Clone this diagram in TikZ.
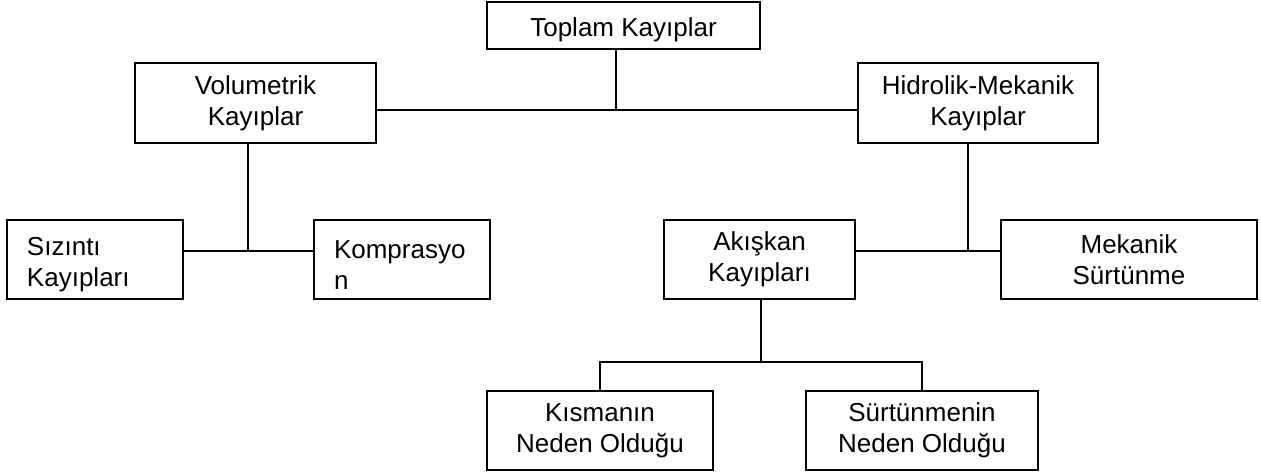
\documentclass[tikz,border=0pt]{standalone}
\usepackage{fontspec}
\setmainfont{Liberation Sans}
\usetikzlibrary{positioning}

\begin{document}
\begin{tikzpicture}[x=1pt,y=-1pt,
  box/.style={draw,line width=2pt,align=center,minimum height=79pt,inner sep=2pt,
    font=\fontsize{26}{31}\selectfont,execute at begin node={\rule{0pt}{28pt}}},
  lbox/.style={box,align=left,text width=136pt,inner xsep=20pt},
  ln/.style={line width=2pt}]
\useasboundingbox (0,0) rectangle (1261,475);
\node[box,minimum width=273pt,minimum height=47pt] (top) at (623.5,25.5) {Toplam Kayıplar};
\node[box,minimum width=241pt,minimum height=80pt] (vol) at (255.5,103) {Volumetrik\\Kayıplar};
\node[box,minimum width=240pt,minimum height=80pt,right=480pt of vol] (hyd) {Hidrolik-Mekanik\\Kayıplar};
\node[lbox] (siz) at (95,259.5) {Sızıntı\\Kayıpları};
\node[lbox,right=129pt of siz] (kom) {Komprasyo\\n};
\node[box,minimum width=191pt] (aki) at (759.5,259.5) {Akışkan\\Kayıpları};
\node[box,minimum width=256pt,right=144pt of aki] (mek) {Mekanik\\Sürtünme};
\node[box,minimum width=226pt] (kis) at (600,430.5) {Kısmanın\\Neden Olduğu};
\node[box,minimum width=232pt,right=91pt of kis] (sur) {Sürtünmenin\\Neden Olduğu};
\coordinate (j1) at (616,110);
\coordinate (j2) at (247.5,251);
\coordinate (j3) at (968,251);
\coordinate (j4) at (761,362);
\draw[ln] (j1 |- top.south) -- (j1);
\draw[ln] (vol.east |- j1) -- (hyd.west |- j1);
\draw[ln] (j2 |- vol.south) -- (j2);
\draw[ln] (siz.east |- j2) -- (kom.west |- j2);
\draw[ln] (j3 |- hyd.south) -- (j3);
\draw[ln] (aki.east |- j3) -- (mek.west |- j3);
\draw[ln] (j4 |- aki.south) -- (j4);
\draw[ln] (kis.north) |- (j4) -| (sur.north);
\end{tikzpicture}
\end{document}
